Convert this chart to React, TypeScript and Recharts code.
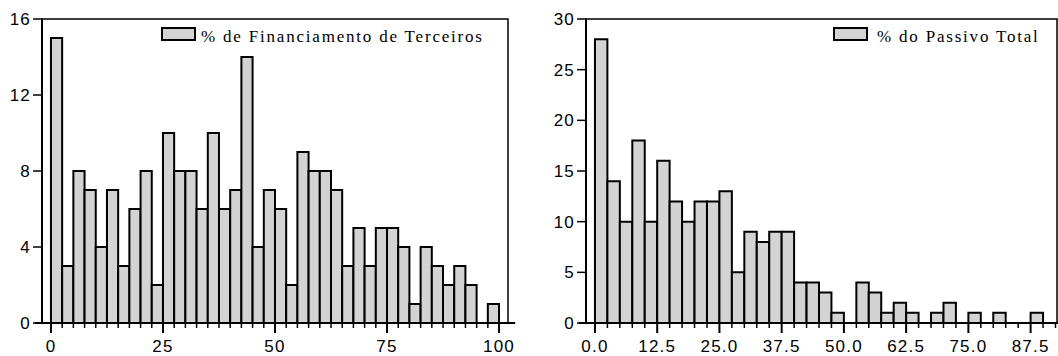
import React from 'react';
import { BarChart, Bar, XAxis, YAxis, ReferenceArea, ReferenceLine, Legend } from 'recharts';

// ---- Left histogram: % de Financiamento de Terceiros ----
const leftBins = [0, 2.5, 5, 7.5, 10, 12.5, 15, 17.5, 20, 22.5, 25, 27.5, 30, 32.5, 35, 37.5, 40, 42.5, 45, 47.5,
  50, 52.5, 55, 57.5, 60, 62.5, 65, 67.5, 70, 72.5, 75, 77.5, 80, 82.5, 85, 87.5, 90, 92.5, 95, 97.5];
const leftCounts = [15, 3, 8, 7, 4, 7, 3, 6, 8, 2, 10, 8, 8, 6, 10, 6, 7, 14, 4, 7,
  6, 2, 9, 8, 8, 7, 3, 5, 3, 5, 5, 4, 1, 4, 3, 2, 3, 2, 0, 1];
const leftMajorTicks = [0, 25, 50, 75, 100];
const leftYTicks = [0, 4, 8, 12, 16];
const leftName = '% de Financiamento de Terceiros';

// ---- Right histogram: % do Passivo Total ----
const rightBins = [0, 2.5, 5, 7.5, 10, 12.5, 15, 17.5, 20, 22.5, 25, 27.5, 30, 32.5, 35, 37.5, 40, 42.5, 45, 47.5,
  50, 52.5, 55, 57.5, 60, 62.5, 65, 67.5, 70, 72.5, 75, 77.5, 80, 82.5, 85, 87.5];
const rightCounts = [28, 14, 10, 18, 10, 16, 12, 10, 12, 12, 13, 5, 9, 8, 9, 9, 4, 4, 3, 1,
  0, 4, 3, 1, 2, 1, 0, 1, 2, 0, 1, 0, 1, 0, 0, 1];
const rightMajorTicks = [0, 12.5, 25, 37.5, 50, 62.5, 75, 87.5];
const rightYTicks = [0, 5, 10, 15, 20, 25, 30];
const rightName = '% do Passivo Total';

const BIN_WIDTH = 2.5;
const BAR_FILL = '#d3d3d3';
const AXIS_FONT = 'Liberation Sans, Arial, sans-serif';
const LEGEND_FONT = 'Liberation Serif, Times New Roman, serif';
const CHART_W = 529;
const CHART_H = 356;

type HistProps = {
  bins: number[];
  counts: number[];
  extraTicks: number[];
  majorTicks: number[];
  yTicks: number[];
  yMax: number;
  xDomain: [number, number];
  name: string;
  fmt: (v: number) => string;
  yAxisWidth: number;
  marginRight: number;
  legendLeft: number;
  legendTextX: number;
  lineExt: [number, number];
  left: number;
};

const makeXTick = (majors: number[], fmt: (v: number) => string) => (props: any) => {
  const { x, y, payload } = props;
  const v = payload.value;
  const major = majors.includes(v);
  return (
    <g>
      <line x1={x} x2={x} y1={y} y2={y + (major ? 10 : 5)} stroke="#000" strokeWidth={major ? 2 : 1.5} />
      {major && (
        <text x={x} y={y + 29} textAnchor="middle" fill="#000" fontSize={17}
          fontFamily={AXIS_FONT} letterSpacing={1.2}>
          {fmt(v)}
        </text>
      )}
    </g>
  );
};

const makeLegend = (textX: number) => (props: any) => {
  const item = props.payload && props.payload[0];
  const label = item ? item.value : '';
  return (
    <svg width={340} height={20} style={{ display: 'block', overflow: 'visible' }}>
      <rect x={1} y={1} width={33} height={12} fill={BAR_FILL} stroke="#000" strokeWidth={2} />
      <text x={textX} y={14.5} fill="#000" fontSize={17} fontFamily={LEGEND_FONT} letterSpacing={1.8}>
        {label}
      </text>
    </svg>
  );
};

function Histogram(p: HistProps) {
  const data = p.bins.map((b, i) => ({ mid: b + BIN_WIDTH / 2, count: p.counts[i] }));
  const numTicks = [...p.bins, ...p.extraTicks];
  const plotW = CHART_W - p.yAxisWidth - p.marginRight;
  const barPx = (plotW * BIN_WIDTH) / (p.xDomain[1] - p.xDomain[0]) - 0.02;
  return (
    <div style={{ position: 'absolute', left: p.left, top: 0 }}>
      <BarChart width={CHART_W} height={CHART_H} data={data}
        margin={{ top: 19, right: p.marginRight, bottom: 0, left: 0 }}
        barCategoryGap={0} barGap={0}>
        <XAxis dataKey="mid" type="number" domain={p.xDomain} allowDataOverflow
          ticks={numTicks} interval={0} height={33}
          tickSize={0} tickMargin={0} tickLine={false}
          axisLine={false}
          tick={makeXTick(p.majorTicks, p.fmt)} />
        <YAxis domain={[0, p.yMax]} ticks={p.yTicks} interval={0} width={p.yAxisWidth}
          tickSize={9} tickMargin={2}
          axisLine={{ stroke: '#000', strokeWidth: 2 }}
          tickLine={{ stroke: '#000', strokeWidth: 1.5 }}
          tick={{ fill: '#000', fontSize: 17, fontFamily: AXIS_FONT, letterSpacing: 1.2 }} />
        <ReferenceArea x1={p.xDomain[0]} x2={p.xDomain[1]} y1={0} y2={p.yMax}
          fill="none" stroke="#000" strokeWidth={1.5} ifOverflow="visible" />
        <Bar dataKey="count" name={p.name} fill={BAR_FILL} stroke="#000" barSize={barPx}
          strokeWidth={2} isAnimationActive={false} />
        <ReferenceLine ifOverflow="visible" stroke="#000" strokeWidth={2}
          segment={[{ x: p.lineExt[0], y: 0 }, { x: p.lineExt[1], y: 0 }]} />
        <Legend layout="vertical" align="center" verticalAlign="middle"
          wrapperStyle={{ position: 'absolute', left: p.legendLeft, top: 27, width: 340 }}
          content={makeLegend(p.legendTextX)} />
      </BarChart>
    </div>
  );
}

export default function App() {
  return (
    <div style={{ position: 'absolute', left: 0, top: 0, width: 1058, height: 356, background: '#fff', overflow: 'hidden' }}>
      <Histogram
        left={0}
        bins={leftBins}
        counts={leftCounts}
        extraTicks={[100]}
        majorTicks={leftMajorTicks}
        yTicks={leftYTicks}
        yMax={16}
        xDomain={[-2, 102]}
        name={leftName}
        fmt={(v) => String(v)}
        yAxisWidth={42}
        marginRight={21}
        legendLeft={161}
        legendTextX={40}
        lineExt={[-3.6, 103.6]}
      />
      <Histogram
        left={529}
        bins={rightBins}
        counts={rightCounts}
        extraTicks={[90, 92.5]}
        majorTicks={rightMajorTicks}
        yTicks={rightYTicks}
        yMax={30}
        xDomain={[-1.8, 92.8]}
        name={rightName}
        fmt={(v) => v.toFixed(1)}
        yAxisWidth={57}
        marginRight={1}
        legendLeft={304}
        legendTextX={44}
        lineExt={[-3.2, 95]}
      />
    </div>
  );
}
